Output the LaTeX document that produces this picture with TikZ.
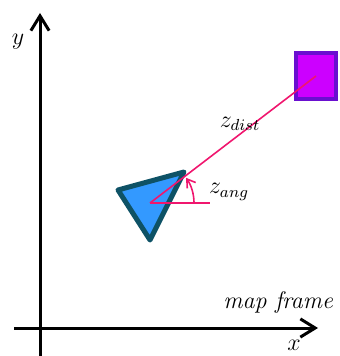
\documentclass[tikz,border=0pt]{standalone}
\usepackage{amsmath}
\usepackage{xcolor}
\usepackage{tikz}
\usetikzlibrary{arrows.meta,positioning,calc}
\definecolor{robotblue}{HTML}{3399FF}
\definecolor{robotedge}{HTML}{0E5266}
\definecolor{targetfill}{HTML}{CC00FF}
\definecolor{targetedge}{HTML}{6A0FD0}
\definecolor{measure}{HTML}{F0166E}

\begin{document}
\begin{tikzpicture}[x=0.5pt, y=-0.5pt, every node/.style={font=\large},
    axis/.style={line width=1.5pt, -{Straight Barb[length=2.6mm, width=3.2mm, line width=1.5pt]}},
    meas/.style={measure, line width=0.8pt}]
    \useasboundingbox (0,0) rectangle (340,356);
    % axes
    \coordinate (orig) at (40,328);
    \coordinate (xneg) at (14,328);
    \coordinate (xend) at (318,328);
    \coordinate (yneg) at (40,356);
    \coordinate (yend) at (40,13);
    \draw[axis] (xneg) -- (xend);
    \draw[axis] (yneg) -- (yend);
    \node (xlab) at (294,345) {$x$};
    \node (ylab) at (18,42) {$y$};
    \node[anchor=east] (frame) at (340,302) {\itshape map frame};
    % robot and target
    \coordinate (robot) at (150,203);
    \coordinate (ra) at (118,190);
    \coordinate (rb) at (184,172);
    \coordinate (rc) at (150,240);
    \draw[robotedge, fill=robotblue, line width=2.5pt, line join=round] (ra) -- (rb) -- (rc) -- cycle;
    \node[draw=targetedge, fill=targetfill, line width=1.6pt, minimum width=20pt, minimum height=23pt, inner sep=0pt] (target) at (316,76) {};
    % measurements
    \coordinate (ref) at (210,203);
    \draw[meas] (robot) -- (target.center);
    \draw[meas] (robot) -- (ref);
    \draw[meas, -{Straight Barb[length=1.4mm, width=1.8mm]}] ($(robot)+(44,0)$) arc[start angle=0, end angle=-35, radius=44];
    \node[anchor=west] (zang) at (202,192) {$z_{ang}$};
    \node (zdist) at (240,124) {$z_{dist}$};
\end{tikzpicture}
\end{document}
